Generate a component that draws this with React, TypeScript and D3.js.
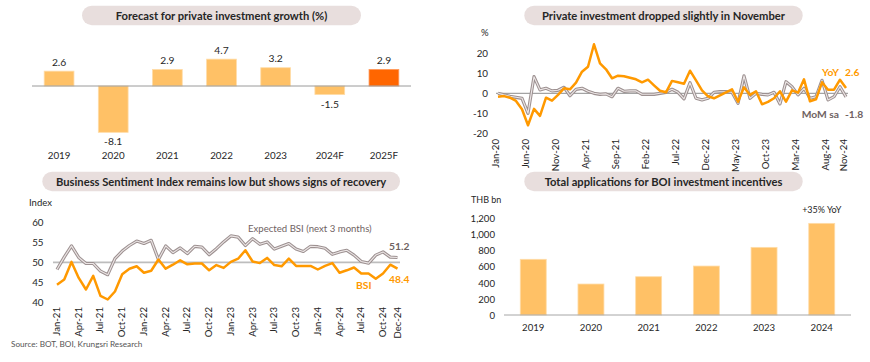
import React from 'react';
import * as d3 from 'd3';

// ---- data ----
const growthYears = ['2019', '2020', '2021', '2022', '2023', '2024F', '2025F'];
const growthValues = [2.6, -8.1, 2.9, 4.7, 3.2, -1.5, 2.9];

const fmtMonth = d3.timeFormat('%b-%y');
const piiMonths = d3.timeMonths(new Date(2020, 0, 1), new Date(2024, 11, 1)).map(fmtMonth);
const piiYoY = [
  -1.7, -1.4, -2.2, -3.8, -8.0, -16.0, -7.8, -11.3, -2.2, -3.7, -0.8, 2.5,
  2.0, 5.3, 10.8, 13.3, 24.5, 15.0, 12.0, 7.5, 8.8, 8.5, 7.8, 7.0,
  5.5, 6.8, 4.0, 1.3, 0.5, 6.2, 5.5, 4.8, 11.3, 6.5, 1.5, -1.5,
  -2.5, -1.0, 0.5, 2.0, -4.2, 3.0, -0.8, 1.0, -5.5, -4.3, -2.5, 1.0,
  -4.2, 1.5, 0.3, 7.0, -4.0, -3.0, 5.5, 1.8, 1.8, 6.8, 2.6,
];
const piiMoM = [
  0.0, -0.8, -1.5, -2.0, -2.5, -10.0, 8.3, 1.7, 2.5, 1.2, 1.5, 3.0,
  -1.2, 2.0, 2.5, 1.0, 0.0, -0.5, -0.3, -1.7, 2.5, 1.0, 1.2, 1.2,
  -0.5, -0.5, -0.5, 0.0, 0.5, 2.0, 0.5, -2.8, 5.3, -2.5, -3.3, -2.5,
  0.5, 0.8, 0.8, 0.5, -5.0, 8.7, -2.5, 0.0, -0.5, -0.8, 0.5, -5.3,
  5.8, 3.3, -0.8, 2.5, -2.5, -1.7, 6.5, -3.3, -1.7, 3.3, -1.8,
];
const piiTicks = ['Jan-20', 'Jun-20', 'Nov-20', 'Apr-21', 'Sep-21', 'Feb-22', 'Jul-22', 'Dec-22', 'May-23', 'Oct-23', 'Mar-24', 'Aug-24', 'Nov-24'];
const piiYTicks = [-20, -10, 0, 10, 20];

const bsiMonths = d3.timeMonths(new Date(2021, 0, 1), new Date(2025, 0, 1)).map(fmtMonth);
const bsiExpected = [
  48.2, 51.3, 54.1, 51.2, 49.7, 49.7, 47.8, 46.9, 50.9, 52.8, 54.2, 55.3,
  54.7, 55.5, 50.7, 54.1, 52.4, 53.6, 52.2, 54.0, 53.8, 51.9, 53.4, 55.1,
  56.6, 56.3, 54.2, 55.9, 54.5, 55.1, 53.3, 54.0, 54.7, 53.3, 52.7, 54.0,
  53.9, 53.5, 52.0, 52.6, 53.0, 51.8, 50.2, 49.8, 51.8, 52.6, 51.3, 51.2,
];
const bsiActual = [
  44.4, 45.7, 50.1, 46.1, 43.2, 46.6, 41.6, 40.7, 42.7, 47.0, 48.4, 49.0,
  47.4, 47.9, 50.7, 48.4, 49.4, 50.5, 49.5, 49.7, 49.7, 48.0, 49.3, 48.6,
  50.1, 50.9, 53.0, 50.2, 49.8, 51.1, 49.3, 49.0, 50.9, 49.1, 49.1, 49.1,
  48.2, 49.1, 49.8, 47.4, 48.0, 48.7, 47.2, 47.2, 45.9, 47.2, 49.4, 48.4,
];
const bsiTicks = ['Jan-21', 'Apr-21', 'Jul-21', 'Oct-21', 'Jan-22', 'Apr-22', 'Jul-22', 'Oct-22', 'Jan-23', 'Apr-23', 'Jul-23', 'Oct-23', 'Jan-24', 'Apr-24', 'Jul-24', 'Oct-24', 'Dec-24'];
const bsiYTicks = [40, 45, 50, 55, 60];

const boiYears = ['2019', '2020', '2021', '2022', '2023', '2024'];
const boiValues = [694, 386, 477, 610, 843, 1142];
const boiYTicks = [0, 200, 400, 600, 800, 1000, 1200];

// ---- style ----
const FONT = 'Lato, "Open Sans", sans-serif';
const TXT = '#262626';
const ORANGE = '#FF9900';
const BAR = '#FFC166';
const BAR_HI = '#FF6600';
const GREY_TXT = '#6f6262';
const PILL = '#E8DEDD';

const TitlePill = ({ x0, x1, y, text }: { x0: number; x1: number; y: number; text: string }) => (
  <g>
    <rect x={x0} y={y} width={x1 - x0} height={19.5} rx={9.75} fill={PILL} />
    <text x={(x0 + x1) / 2} y={y + 13.8} textAnchor="middle" fontWeight="bold" fontSize={11.2} fill={TXT}>
      {text}
    </text>
  </g>
);

// double (compound) grey line
const DoubleLine = ({ d }: { d: string }) => (
  <g fill="none" strokeLinejoin="round">
    <path d={d} stroke="#9d9191" strokeWidth={3.2} />
    <path d={d} stroke="#ece6e6" strokeWidth={1.1} />
  </g>
);

export default function App() {
  // panel 1: forecast bars
  const x1 = d3.scaleBand<string>().domain(growthYears).range([32, 411]).paddingInner(0.45).paddingOuter(0.225);
  const y1 = d3.scaleLinear().domain([-10, 6]).range([143.2, 51.7]);

  // panel 2: private investment index
  const x2 = d3.scalePoint<string>().domain(piiMonths).range([498, 846]);
  const y2 = d3.scaleLinear().domain([-20, 20]).range([133.3, 53.3]);
  const line2 = (vals: number[]) =>
    d3.line<number>().x((_, i) => x2(piiMonths[i]) as number).y((v) => y2(v))(vals) as string;

  // panel 3: BSI
  const x3 = d3.scalePoint<string>().domain(bsiMonths).range([57, 397.5]);
  const y3 = d3.scaleLinear().domain([40, 60]).range([302.3, 222.3]);
  const line3 = (vals: number[]) =>
    d3.line<number>().x((_, i) => x3(bsiMonths[i]) as number).y((v) => y3(v))(vals) as string;

  // panel 4: BOI applications
  const x4 = d3.scaleBand<string>().domain(boiYears).range([504, 851]).paddingInner(0.55).paddingOuter(0.282);
  const y4 = d3.scaleLinear().domain([0, 1200]).range([315, 218.7]);
  const fmtK = d3.format(',');

  return (
    <div style={{ position: 'fixed', left: 0, top: 0 }}>
      <svg width={870} height={362} style={{ display: 'block', background: '#fff' }} fontFamily={FONT}>
        {/* ---------- panel 1 ---------- */}
        <TitlePill x0={82} x1={361} y={5.7} text="Forecast for private investment growth (%)" />
        {growthValues.map((v, i) => {
          const c = growthYears[i];
          const bx = x1(c) as number;
          const top = Math.min(y1(v), y1(0));
          const h = Math.abs(y1(v) - y1(0));
          const last = i === growthValues.length - 1;
          return (
            <g key={c}>
              <rect x={bx} y={top} width={x1.bandwidth()} height={h} fill={last ? BAR_HI : BAR}
                stroke={last ? '#ff9a5c' : '#ffdca8'} strokeWidth={0.8} />
              <text x={bx + x1.bandwidth() / 2} y={v >= 0 ? y1(v) - 5.5 : y1(v) + 13} textAnchor="middle" fontSize={10.3} fill={TXT}>
                {v.toFixed(1)}
              </text>
            </g>
          );
        })}
        <line x1={32} x2={411} y1={y1(0)} y2={y1(0)} stroke="#9a9a9a" strokeWidth={1} />
        {growthYears.map((c) => (
          <text key={c} x={(x1(c) as number) + x1.bandwidth() / 2} y={159.3} textAnchor="middle" fontSize={9.8} fill={TXT}>
            {c}
          </text>
        ))}

        {/* ---------- panel 2 ---------- */}
        <TitlePill x0={524.3} x1={802.7} y={5.7} text="Private investment dropped slightly in November" />
        <text x={481} y={36} fontSize={9.5} fill={TXT}>%</text>
        {piiYTicks.map((t) => (
          <text key={t} x={488} y={y2(t) + 3.6} textAnchor="end" fontSize={9.8} fill={TXT}>
            {t}
          </text>
        ))}
        <line x1={496} x2={848} y1={y2(0)} y2={y2(0)} stroke="#8c8c8c" strokeWidth={1} />
        <DoubleLine d={line2(piiMoM)} />
        <path d={line2(piiYoY)} fill="none" stroke={ORANGE} strokeWidth={2.5} strokeLinejoin="round" />
        {piiTicks.map((t) => (
          <text key={t} transform={`translate(${(x2(t) as number) + 1},139) rotate(-90)`} textAnchor="end" fontSize={9.6} fill={TXT}>
            {t}
          </text>
        ))}
        <text x={839} y={76.3} textAnchor="end" fontSize={10.3} fontWeight="bold" fill={ORANGE}>YoY</text>
        <text x={845} y={76.3} fontSize={10.3} fontWeight="bold" fill={ORANGE}>2.6</text>
        <text x={839} y={118} textAnchor="end" fontSize={10.3} fontWeight="bold" fill={GREY_TXT}>MoM sa</text>
        <text x={845} y={118} fontSize={10.3} fontWeight="bold" fill={GREY_TXT}>-1.8</text>

        {/* ---------- panel 3 ---------- */}
        <TitlePill x0={42.3} x1={400} y={171.7} text="Business Sentiment Index remains low but shows signs of recovery" />
        <text x={29} y={205.5} fontSize={9.5} fill={TXT}>Index</text>
        {bsiYTicks.map((t) => (
          <text key={t} x={43.5} y={y3(t) + 3.6} textAnchor="end" fontSize={9.8} fill={TXT}>
            {t}
          </text>
        ))}
        <line x1={53} x2={400} y1={y3(50)} y2={y3(50)} stroke="#bdbdbd" strokeWidth={1.8} />
        <DoubleLine d={line3(bsiExpected)} />
        <path d={line3(bsiActual)} fill="none" stroke={ORANGE} strokeWidth={2.5} strokeLinejoin="round" />
        {bsiTicks.map((t) => (
          <text key={t} transform={`translate(${(x3(t) as number) + 3},307) rotate(-90)`} textAnchor="end" fontSize={9.6} fill={TXT}>
            {t}
          </text>
        ))}
        <text x={248} y={231.8} fontSize={9.6} fill={GREY_TXT}>Expected BSI (next 3 months)</text>
        <text x={389} y={249.5} fontSize={10.3} fontWeight="bold" fill={GREY_TXT}>51.2</text>
        <text x={356} y={288.6} fontSize={10.3} fontWeight="bold" fill={ORANGE}>BSI</text>
        <text x={389} y={283} fontSize={10.3} fontWeight="bold" fill={ORANGE}>48.4</text>
        <text x={11} y={346.5} fontSize={8.2} fill="#555">Source: BOT, BOI, Krungsri Research</text>

        {/* ---------- panel 4 ---------- */}
        <TitlePill x0={524.3} x1={802.7} y={171.7} text="Total applications for BOI investment incentives" />
        <text x={471} y={203.3} fontSize={9} fill={TXT}>THB bn</text>
        {boiYTicks.map((t) => (
          <text key={t} x={495} y={y4(t) + 3.6} textAnchor="end" fontSize={9.6} fill={TXT}>
            {fmtK(t)}
          </text>
        ))}
        {boiValues.map((v, i) => (
          <rect key={boiYears[i]} x={x4(boiYears[i])} y={y4(v)} width={x4.bandwidth()} height={y4(0) - y4(v)}
            fill={BAR} stroke="#ffdca8" strokeWidth={0.8} />
        ))}
        <line x1={504} x2={851} y1={y4(0)} y2={y4(0)} stroke="#a6a6a6" strokeWidth={1} />
        {boiYears.map((c) => (
          <text key={c} x={(x4(c) as number) + x4.bandwidth() / 2} y={331.2} textAnchor="middle" fontSize={9.6} fill={TXT}>
            {c}
          </text>
        ))}
        <text x={(x4('2024') as number) + x4.bandwidth() / 2} y={213.3} textAnchor="middle" fontSize={9} fill={TXT}>
          +35% YoY
        </text>
      </svg>
    </div>
  );
}
